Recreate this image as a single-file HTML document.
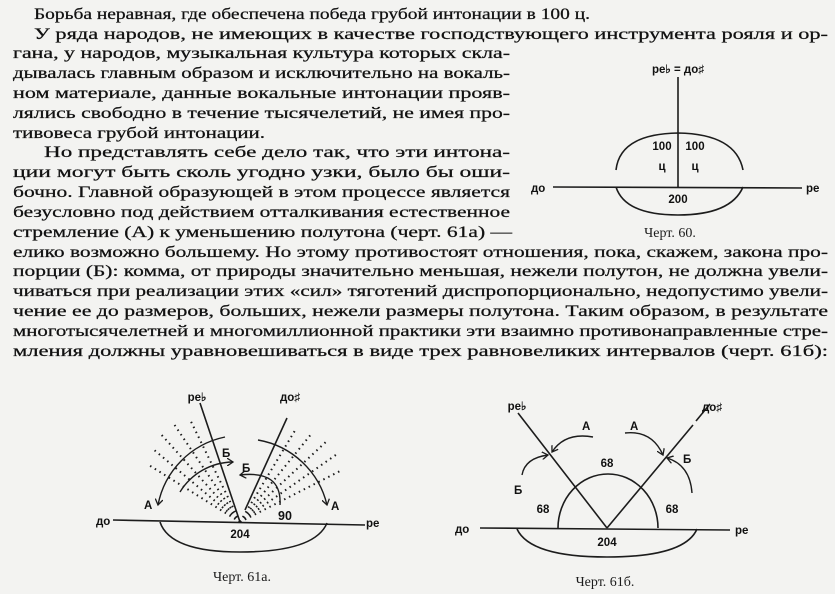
<!DOCTYPE html>
<html><head><meta charset="utf-8"><style>
html,body{margin:0;padding:0;background:#f3f3f1;}
svg{display:block;}
.t{font-family:"Liberation Serif",serif;font-size:15.5px;fill:#111;stroke:#111;stroke-width:0.25;}
.s{font-family:"Liberation Sans",sans-serif;font-size:11.5px;fill:#111;font-weight:bold;}
.c{font-family:"Liberation Serif",serif;font-size:14px;fill:#1c1c1c;}
line,path{stroke:#1c1c1c;fill:none;}
</style></head><body>
<svg width="835" height="594" viewBox="0 0 835 594" xmlns="http://www.w3.org/2000/svg">
<defs><marker id="ar" markerWidth="8" markerHeight="8" refX="6" refY="4" orient="auto" markerUnits="userSpaceOnUse"><path d="M0,0 L6,4 L0,8" stroke="#1c1c1c" stroke-width="1.3" fill="none"/></marker></defs>
<g class="t">
<text x="34" y="19" textLength="556" lengthAdjust="spacingAndGlyphs">Борьба неравная, где обеспечена победа грубой интонации в 100 ц.</text>
<text x="34" y="39" textLength="794" lengthAdjust="spacingAndGlyphs">У ряда народов, не имеющих в качестве господствующего инструмента рояля и ор-</text>
<text x="13" y="58" textLength="497" lengthAdjust="spacingAndGlyphs">гана, у народов, музыкальная культура которых скла-</text>
<text x="13" y="78" textLength="497" lengthAdjust="spacingAndGlyphs">дывалась главным образом и исключительно на вокаль-</text>
<text x="13" y="98" textLength="497" lengthAdjust="spacingAndGlyphs">ном материале, данные вокальные интонации прояв-</text>
<text x="13" y="118" textLength="497" lengthAdjust="spacingAndGlyphs">лялись свободно в течение тысячелетий, не имея про-</text>
<text x="13" y="138" textLength="252" lengthAdjust="spacingAndGlyphs">тивовеса грубой интонации.</text>
<text x="44" y="157" textLength="466" lengthAdjust="spacingAndGlyphs">Но представлять себе дело так, что эти интона-</text>
<text x="13" y="177" textLength="497" lengthAdjust="spacingAndGlyphs">ции могут быть сколь угодно узки, было бы оши-</text>
<text x="13" y="197" textLength="497" lengthAdjust="spacingAndGlyphs">бочно. Главной образующей в этом процессе является</text>
<text x="13" y="217" textLength="497" lengthAdjust="spacingAndGlyphs">безусловно под действием отталкивания естественное</text>
<text x="13" y="237" textLength="499" lengthAdjust="spacingAndGlyphs">стремление (А) к уменьшению полутона (черт. 61а) —</text>
<text x="13" y="257" textLength="815" lengthAdjust="spacingAndGlyphs">елико возможно большему. Но этому противостоят отношения, пока, скажем, закона про-</text>
<text x="13" y="276" textLength="815" lengthAdjust="spacingAndGlyphs">порции (Б): комма, от природы значительно меньшая, нежели полутон, не должна увели-</text>
<text x="13" y="296" textLength="815" lengthAdjust="spacingAndGlyphs">чиваться при реализации этих «сил» тяготений диспропорционально, недопустимо увели-</text>
<text x="13" y="316" textLength="815" lengthAdjust="spacingAndGlyphs">чение ее до размеров, больших, нежели размеры полутона. Таким образом, в результате</text>
<text x="13" y="336" textLength="815" lengthAdjust="spacingAndGlyphs">многотысячелетней и многомиллионной практики эти взаимно противонаправленные стре-</text>
<text x="13" y="356" textLength="815" lengthAdjust="spacingAndGlyphs">мления должны уравновешиваться в виде трех равновеликих интервалов (черт. 61б):</text>
</g>
<!-- Fig 60 -->
<g stroke-width="1.6">
<line x1="678" y1="77" x2="678" y2="188"/>
<line x1="553" y1="187" x2="802" y2="188"/>
<path d="M616,170 Q620,134 678,133 Q736,134 743,170"/>
<path d="M616,187 Q625,215 678,215 Q731,215 743,187"/>
</g>
<text class="s" x="678" y="73" text-anchor="middle">ре♭ = до♯</text>
<text class="s" x="531" y="192">до</text>
<text class="s" x="806" y="192">ре</text>
<text class="s" x="662" y="150" text-anchor="middle">100</text>
<text class="s" x="695" y="150" text-anchor="middle">100</text>
<text class="s" x="662" y="170" text-anchor="middle">ц</text>
<text class="s" x="695" y="170" text-anchor="middle">ц</text>
<text class="s" x="678" y="203" text-anchor="middle">200</text>
<text class="c" x="670" y="237" text-anchor="middle">Черт. 60.</text>
<!-- Fig 61a -->
<g stroke-width="1.6">
<line x1="113" y1="520" x2="365" y2="525"/>
<line x1="240" y1="522" x2="200" y2="403"/>
<line x1="245" y1="510" x2="287" y2="418"/>
<path d="M160,522 Q170,552 240,552 Q315,552 327,523"/>
</g>
<g stroke-width="2" stroke-dasharray="1.5 4">
<line x1="240" y1="522" x2="240" y2="410" transform="rotate(-26 240 522)"/>
<line x1="240" y1="522" x2="240" y2="405" transform="rotate(-34 240 522)"/>
<line x1="240" y1="522" x2="240" y2="405" transform="rotate(-42 240 522)"/>
<line x1="240" y1="522" x2="240" y2="408" transform="rotate(-50 240 522)"/>
<line x1="240" y1="522" x2="240" y2="412" transform="rotate(-58 240 522)"/>
<line x1="240" y1="522" x2="240" y2="412" transform="rotate(31 240 522)"/>
<line x1="240" y1="522" x2="240" y2="408" transform="rotate(39 240 522)"/>
<line x1="240" y1="522" x2="240" y2="405" transform="rotate(47 240 522)"/>
<line x1="240" y1="522" x2="240" y2="405" transform="rotate(55 240 522)"/>
<line x1="240" y1="522" x2="240" y2="410" transform="rotate(63 240 522)"/>
</g>
<g stroke-width="1.4">
<path d="M225,437 A86,86 0 0 0 158,505" marker-end="url(#ar)"/>
<path d="M180,492 A63,63 0 0 1 233,462" marker-end="url(#ar)"/>
<path d="M258,440 A86,86 0 0 1 327,505" marker-end="url(#ar)"/>
<path d="M280,505 Q282,470 240,475" marker-end="url(#ar)"/>
</g>
<text class="s" x="197" y="401" text-anchor="middle">ре♭</text>
<text class="s" x="290" y="401" text-anchor="middle">до♯</text>
<text class="s" x="144" y="509">А</text>
<text class="s" x="331" y="510">А</text>
<text class="s" x="222" y="457">Б</text>
<text class="s" x="242" y="472">Б</text>
<text class="s" x="278" y="520" style="font-size:12.5px">90</text>
<text class="s" x="96" y="525">до</text>
<text class="s" x="366" y="527">ре</text>
<text class="s" x="240" y="538" text-anchor="middle">204</text>
<text class="c" x="242" y="581" text-anchor="middle">Черт. 61а.</text>
<!-- Fig 61b -->
<g stroke-width="1.6">
<line x1="480" y1="528" x2="730" y2="530"/>
<line x1="607" y1="528" x2="518" y2="413"/>
<line x1="607" y1="528" x2="693" y2="425"/>
<line x1="696" y1="421" x2="710" y2="404"/>
<path d="M558,528 A50,54 0 0 1 658,528"/>
<path d="M517,529 Q530,557 607,557 Q685,557 697,529"/>
</g>
<g stroke-width="1.4">
<path d="M593,437 Q565,432 552,452" marker-end="url(#ar)"/>
<path d="M522,475 Q525,458 548,455" marker-end="url(#ar)"/>
<path d="M625,433 Q652,430 663,455" marker-end="url(#ar)"/>
<path d="M692,493 Q690,465 667,458" marker-end="url(#ar)"/>
</g>
<text class="s" x="517" y="410" text-anchor="middle">ре♭</text>
<text class="s" x="712" y="411" text-anchor="middle">до♯</text>
<text class="s" x="582" y="430">А</text>
<text class="s" x="630" y="430">А</text>
<text class="s" x="514" y="494">Б</text>
<text class="s" x="683" y="463">Б</text>
<text class="s" x="607" y="467" text-anchor="middle">68</text>
<text class="s" x="543" y="513" text-anchor="middle">68</text>
<text class="s" x="672" y="513" text-anchor="middle">68</text>
<text class="s" x="455" y="533">до</text>
<text class="s" x="735" y="534">ре</text>
<text class="s" x="607" y="546" text-anchor="middle">204</text>
<text class="c" x="605" y="586" text-anchor="middle">Черт. 61б.</text>
</svg>
</body></html>
